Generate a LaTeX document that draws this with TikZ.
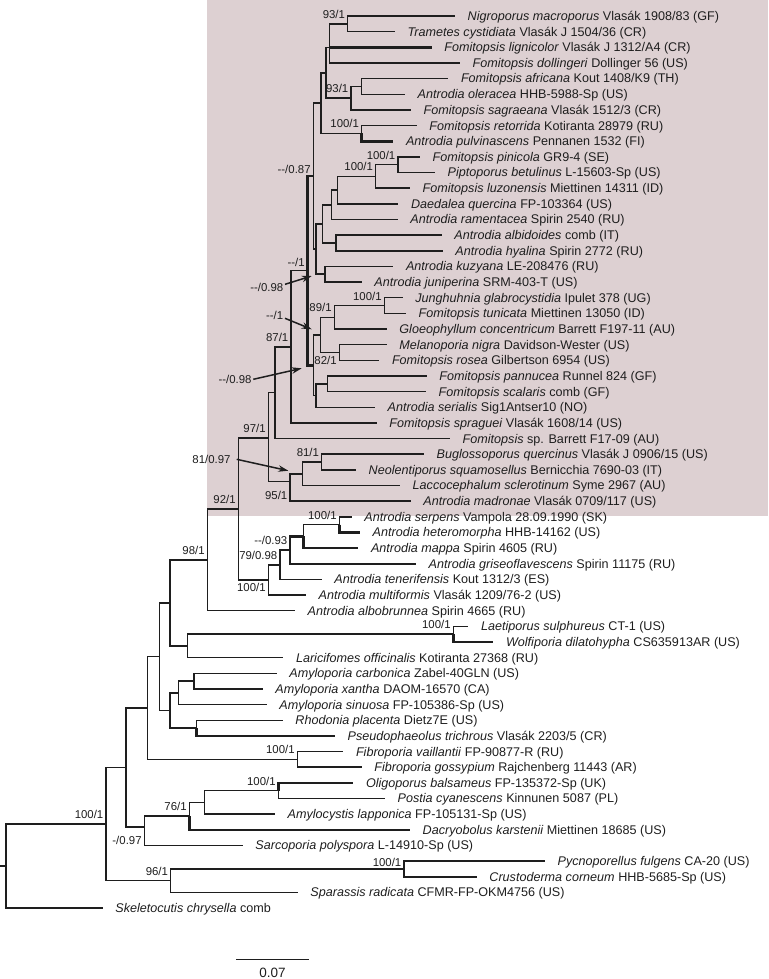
\documentclass[tikz,border=0pt]{standalone}
\usepackage{fontspec}
\setmainfont{Liberation Sans}
\usetikzlibrary{arrows.meta}
\definecolor{cladeshade}{RGB}{221,208,210}
\definecolor{treeline}{RGB}{30,30,30}
\newcommand{\gen}[1]{\textit{#1}}

\begin{document}
\begin{tikzpicture}[x=1pt,y=-1pt,
    branch/.style={draw=treeline,line width=1.5pt},
    bold/.style={draw=treeline,line width=2.6pt},
    taxon/.style={anchor=base west,xshift=12.5pt,yshift=-4.4pt,inner sep=0pt,
        text=treeline,font=\fontsize{12.6}{14}\selectfont},
    support/.style={anchor=base east,xshift=-2.5pt,yshift=#1,inner sep=0pt,
        text=treeline,font=\fontsize{11.4}{12}\selectfont},
    support/.default=5.5pt,
    annot/.style={anchor=east,inner sep=0pt,text=treeline,font=\fontsize{11.4}{12}\selectfont},
    callout/.style={draw=treeline,line width=1.5pt,-{Stealth[length=10pt,width=6.5pt]}}]
    \useasboundingbox (0,0) rectangle (768,979);
    % shaded clade
    \fill[cladeshade] (206.7,0) rectangle (768,515.5);

    % leaf tips
    \coordinate (nigro) at (455,16.0);
    \coordinate (trame) at (395,31.7);
    \coordinate (ligni) at (431.7,47.3);
    \coordinate (dolli) at (460,63.0);
    \coordinate (afric) at (448.3,78.6);
    \coordinate (olera) at (405,94.3);
    \coordinate (sagra) at (411,109.9);
    \coordinate (retor) at (416.7,125.6);
    \coordinate (pulvi) at (393.3,141.2);
    \coordinate (pinic) at (420,156.9);
    \coordinate (betul) at (435,172.5);
    \coordinate (luzon) at (410,188.2);
    \coordinate (querc) at (398.3,203.8);
    \coordinate (ramen) at (397.7,219.5);
    \coordinate (albid) at (441.7,235.1);
    \coordinate (hyali) at (442.7,250.8);
    \coordinate (kuzya) at (393.3,266.4);
    \coordinate (junip) at (361.7,282.1);
    \coordinate (jungh) at (402.7,297.7);
    \coordinate (tunic) at (406,313.4);
    \coordinate (gloeo) at (386.7,329.0);
    \coordinate (melan) at (386.7,344.7);
    \coordinate (rosea) at (379.3,360.3);
    \coordinate (pannu) at (426.7,376.0);
    \coordinate (scala) at (426,391.6);
    \coordinate (seria) at (375,407.3);
    \coordinate (sprag) at (376.7,422.9);
    \coordinate (fomsp) at (450,438.6);
    \coordinate (buglo) at (424,454.2);
    \coordinate (neole) at (356,469.9);
    \coordinate (lacco) at (400,485.5);
    \coordinate (madro) at (410.7,501.2);
    \coordinate (serpe) at (351.7,516.8);
    \coordinate (heter) at (360,532.5);
    \coordinate (mappa) at (358.3,548.1);
    \coordinate (grise) at (416,563.8);
    \coordinate (tener) at (321.7,579.4);
    \coordinate (multi) at (306,595.1);
    \coordinate (albob) at (295,610.7);
    \coordinate (laeti) at (468.3,626.4);
    \coordinate (wolfi) at (493.3,642.0);
    \coordinate (laric) at (283.3,657.7);
    \coordinate (carbo) at (276.7,673.3);
    \coordinate (xanth) at (262.7,689.0);
    \coordinate (sinuo) at (266.7,704.6);
    \coordinate (rhodo) at (282.7,720.3);
    \coordinate (pseud) at (335,735.9);
    \coordinate (vaill) at (343.3,751.6);
    \coordinate (gossy) at (361.7,767.2);
    \coordinate (oligo) at (353.3,782.9);
    \coordinate (posti) at (385,798.5);
    \coordinate (amylo) at (275,814.2);
    \coordinate (dacry) at (410,829.8);
    \coordinate (sarco) at (242.7,845.5);
    \coordinate (pycno) at (545,861.1);
    \coordinate (crust) at (476.7,876.8);
    \coordinate (spara) at (297.7,892.4);
    \coordinate (skele) at (102.7,908.1);

    % internal nodes
    \coordinate (stub) at (0,866.1);
    \coordinate (root) at (6,866.1);
    \coordinate (nAB) at (106,824.1);
    \coordinate (nVV) at (126,767.5);
    \coordinate (nTT) at (147.7,708.1);
    \coordinate (nOO) at (159.3,656.7);
    \coordinate (nNN) at (170,603);
    \coordinate (nKK) at (207.3,559.9);
    \coordinate (nDD) at (238.3,509);
    \coordinate (nCC) at (268.3,438);
    \coordinate (nK) at (275,392.7);
    \coordinate (nJ) at (291,346.8);
    \coordinate (nI) at (307.3,270.7);
    \coordinate (nH) at (313.3,176.1);
    \coordinate (nG) at (321,103.1);
    \coordinate (nE) at (326,72.8);
    \coordinate (nB) at (329.3,47.3);
    \coordinate (nA) at (347.7,23.8);
    \coordinate (nD) at (351,98.2);
    \coordinate (nC) at (361.7,86.4);
    \coordinate (nF) at (361.7,133.4);
    \coordinate (nQ) at (316,249.1);
    \coordinate (nO) at (322.7,223.9);
    \coordinate (nN) at (331.7,204.8);
    \coordinate (nM) at (337.7,190.1);
    \coordinate (nL) at (375.7,176.4);
    \coordinate (nPB) at (398,164.7);
    \coordinate (nP) at (336,243.0);
    \coordinate (nR) at (325,274.2);
    \coordinate (nW) at (313.3,365.2);
    \coordinate (nU) at (320.7,334.9);
    \coordinate (nS) at (334.3,317.3);
    \coordinate (nT) at (384.3,305.5);
    \coordinate (nV) at (339.3,352.5);
    \coordinate (nX) at (316,395.5);
    \coordinate (nY) at (327.3,383.8);
    \coordinate (nZ) at (290,481.7);
    \coordinate (nAA) at (302.3,473.8);
    \coordinate (nBB) at (321.7,462.0);
    \coordinate (nEE) at (268.3,580);
    \coordinate (nFF) at (280,564.8);
    \coordinate (nGG) at (290,550.1);
    \coordinate (nHH) at (303.3,536.4);
    \coordinate (nII) at (339.3,524.7);
    \coordinate (nLL) at (187.7,646);
    \coordinate (nMM) at (453.3,634.2);
    \coordinate (nPP) at (170,710.5);
    \coordinate (nQQ) at (178.3,692.9);
    \coordinate (nRR) at (194,681.2);
    \coordinate (nSS) at (196.7,728.1);
    \coordinate (nUU) at (297.3,759.4);
    \coordinate (nWW) at (144.3,827);
    \coordinate (nXX) at (189.3,816.1);
    \coordinate (nYY) at (204.3,802.4);
    \coordinate (nZZ) at (278.3,790.7);
    \coordinate (nCD) at (170.7,880.7);
    \coordinate (nDE) at (404,869);

    % branches
    \draw[branch] (stub) -- (root);
    \draw[branch] (root) |- (nAB) (root) |- (skele);
    \draw[branch] (nAB) |- (nVV) (nAB) |- (nCD);
    \draw[branch] (nVV) |- (nTT) (nVV) |- (nWW);
    \draw[branch] (nTT) |- (nOO) (nTT) |- (nUU);
    \draw[branch] (nOO) |- (nNN) (nOO) |- (nPP);
    \draw[branch] (nNN) |- (nKK) (nNN) |- (nLL);
    \draw[branch] (nKK) |- (nDD) (nKK) |- (albob);
    \draw[branch] (nDD) |- (nCC) (nDD) |- (nEE);
    \draw[branch] (nCC) |- (nK) (nCC) |- (nZ);
    \draw[branch] (nK) |- (nJ) (nK) |- (fomsp);
    \draw[branch] (nJ) |- (nI) (nJ) |- (sprag);
    \draw[bold] (nI) |- (nH) (nI) |- (nW);
    \draw[branch] (nH) |- (nG) (nH) |- (nQ);
    \draw[branch] (nG) |- (nE) (nG) |- (nF);
    \draw[branch] (nE) |- (nB) (nE) |- (nD);
    \draw[branch] (nB) |- (nA) (nB) |- (dolli);
    \draw[bold] (nB) -- (ligni);
    \draw[branch] (nA) |- (nigro) (nA) |- (trame);
    \draw[branch] (nD) |- (nC) (nD) |- (sagra);
    \draw[branch] (nC) |- (afric) (nC) |- (olera);
    \draw[branch] (nF) |- (retor);
    \draw[bold] (nF) |- (pulvi);
    \draw[branch] (nQ) |- (nO) (nQ) |- (nR);
    \draw[branch] (nO) |- (nN) (nO) |- (nP);
    \draw[branch] (nN) |- (nM) (nN) |- (ramen);
    \draw[branch] (nM) |- (nL) (nM) |- (querc);
    \draw[branch] (nL) |- (nPB) (nL) |- (luzon);
    \draw[branch] (nPB) |- (pinic) (nPB) |- (betul);
    \draw[bold] (nP) |- (albid);
    \draw[branch] (nP) |- (hyali);
    \draw[branch] (nR) |- (kuzya) (nR) |- (junip);
    \draw[branch] (nW) |- (nU) (nW) |- (nX);
    \draw[branch] (nU) |- (nS) (nU) |- (nV);
    \draw[branch] (nS) |- (nT) (nS) |- (gloeo);
    \draw[branch] (nT) |- (jungh) (nT) |- (tunic);
    \draw[branch] (nV) |- (melan) (nV) |- (rosea);
    \draw[branch] (nX) |- (nY) (nX) |- (seria);
    \draw[branch] (nY) |- (pannu) (nY) |- (scala);
    \draw[branch] (nZ) |- (nAA) (nZ) |- (madro);
    \draw[branch] (nAA) |- (nBB) (nAA) |- (lacco);
    \draw[branch] (nBB) |- (buglo) (nBB) |- (neole);
    \draw[branch] (nEE) |- (nFF) (nEE) |- (multi);
    \draw[branch] (nFF) |- (nGG) (nFF) |- (tener);
    \draw[bold] (nGG) |- (nHH);
    \draw[branch] (nGG) |- (grise);
    \draw[branch] (nHH) |- (nII);
    \draw[bold] (nHH) |- (mappa);
    \draw[branch] (nII) |- (serpe);
    \draw[bold] (nII) |- (heter);
    \draw[branch] (nLL) |- (nMM) (nLL) |- (laric);
    \draw[branch] (nMM) |- (laeti);
    \draw[bold] (nMM) |- (wolfi);
    \draw[branch] (nPP) |- (nQQ) (nPP) |- (nSS);
    \draw[branch] (nQQ) |- (nRR) (nQQ) |- (sinuo);
    \draw[branch] (nRR) |- (carbo) (nRR) |- (xanth);
    \draw[branch] (nSS) |- (rhodo);
    \draw[bold] (nSS) |- (pseud);
    \draw[branch] (nUU) |- (vaill) (nUU) |- (gossy);
    \draw[branch] (nWW) |- (nXX) (nWW) |- (sarco);
    \draw[branch] (nXX) |- (nYY);
    \draw[bold] (nXX) |- (dacry);
    \draw[branch] (nYY) |- (nZZ) (nYY) |- (amylo);
    \draw[bold] (nZZ) |- (oligo);
    \draw[branch] (nZZ) |- (posti);
    \draw[branch] (nCD) |- (nDE) (nCD) |- (spara);
    \draw[branch] (nDE) |- (pycno);
    \draw[bold] (nDE) |- (crust);

    % taxa
    \node[taxon] (nigro-t) at (nigro) {\gen{Nigroporus macroporus} Vlasák 1908/83 (GF)};
    \node[taxon] (trame-t) at (trame) {\gen{Trametes cystidiata} Vlasák J 1504/36 (CR)};
    \node[taxon] (ligni-t) at (ligni) {\gen{Fomitopsis lignicolor} Vlasák J 1312/A4 (CR)};
    \node[taxon] (dolli-t) at (dolli) {\gen{Fomitopsis dollingeri} Dollinger 56 (US)};
    \node[taxon] (afric-t) at (afric) {\gen{Fomitopsis africana} Kout 1408/K9 (TH)};
    \node[taxon] (olera-t) at (olera) {\gen{Antrodia oleracea} HHB-5988-Sp (US)};
    \node[taxon] (sagra-t) at (sagra) {\gen{Fomitopsis sagraeana} Vlasák 1512/3 (CR)};
    \node[taxon] (retor-t) at (retor) {\gen{Fomitopsis retorrida} Kotiranta 28979 (RU)};
    \node[taxon] (pulvi-t) at (pulvi) {\gen{Antrodia pulvinascens} Pennanen 1532 (FI)};
    \node[taxon] (pinic-t) at (pinic) {\gen{Fomitopsis pinicola} GR9-4 (SE)};
    \node[taxon] (betul-t) at (betul) {\gen{Piptoporus betulinus} L-15603-Sp (US)};
    \node[taxon] (luzon-t) at (luzon) {\gen{Fomitopsis luzonensis} Miettinen 14311 (ID)};
    \node[taxon] (querc-t) at (querc) {\gen{Daedalea quercina} FP-103364 (US)};
    \node[taxon] (ramen-t) at (ramen) {\gen{Antrodia ramentacea} Spirin 2540 (RU)};
    \node[taxon] (albid-t) at (albid) {\gen{Antrodia albidoides} comb (IT)};
    \node[taxon] (hyali-t) at (hyali) {\gen{Antrodia hyalina} Spirin 2772 (RU)};
    \node[taxon] (kuzya-t) at (kuzya) {\gen{Antrodia kuzyana} LE-208476 (RU)};
    \node[taxon] (junip-t) at (junip) {\gen{Antrodia juniperina} SRM-403-T (US)};
    \node[taxon] (jungh-t) at (jungh) {\gen{Junghuhnia glabrocystidia} Ipulet 378 (UG)};
    \node[taxon] (tunic-t) at (tunic) {\gen{Fomitopsis tunicata} Miettinen 13050 (ID)};
    \node[taxon] (gloeo-t) at (gloeo) {\gen{Gloeophyllum concentricum} Barrett F197-11 (AU)};
    \node[taxon] (melan-t) at (melan) {\gen{Melanoporia nigra} Davidson-Wester (US)};
    \node[taxon] (rosea-t) at (rosea) {\gen{Fomitopsis rosea} Gilbertson 6954 (US)};
    \node[taxon] (pannu-t) at (pannu) {\gen{Fomitopsis pannucea} Runnel 824 (GF)};
    \node[taxon] (scala-t) at (scala) {\gen{Fomitopsis scalaris} comb (GF)};
    \node[taxon] (seria-t) at (seria) {\gen{Antrodia serialis} Sig1Antser10 (NO)};
    \node[taxon] (sprag-t) at (sprag) {\gen{Fomitopsis spraguei} Vlasák 1608/14 (US)};
    \node[taxon] (fomsp-t) at (fomsp) {\gen{Fomitopsis} sp. Barrett F17-09 (AU)};
    \node[taxon] (buglo-t) at (buglo) {\gen{Buglossoporus quercinus} Vlasák J 0906/15 (US)};
    \node[taxon] (neole-t) at (neole) {\gen{Neolentiporus squamosellus} Bernicchia 7690-03 (IT)};
    \node[taxon] (lacco-t) at (lacco) {\gen{Laccocephalum sclerotinum} Syme 2967 (AU)};
    \node[taxon] (madro-t) at (madro) {\gen{Antrodia madronae} Vlasák 0709/117 (US)};
    \node[taxon] (serpe-t) at (serpe) {\gen{Antrodia serpens} Vampola 28.09.1990 (SK)};
    \node[taxon] (heter-t) at (heter) {\gen{Antrodia heteromorpha} HHB-14162 (US)};
    \node[taxon] (mappa-t) at (mappa) {\gen{Antrodia mappa} Spirin 4605 (RU)};
    \node[taxon] (grise-t) at (grise) {\gen{Antrodia griseoflavescens} Spirin 11175 (RU)};
    \node[taxon] (tener-t) at (tener) {\gen{Antrodia tenerifensis} Kout 1312/3 (ES)};
    \node[taxon] (multi-t) at (multi) {\gen{Antrodia multiformis} Vlasák 1209/76-2 (US)};
    \node[taxon] (albob-t) at (albob) {\gen{Antrodia albobrunnea} Spirin 4665 (RU)};
    \node[taxon] (laeti-t) at (laeti) {\gen{Laetiporus sulphureus} CT-1 (US)};
    \node[taxon] (wolfi-t) at (wolfi) {\gen{Wolfiporia dilatohypha} CS635913AR (US)};
    \node[taxon] (laric-t) at (laric) {\gen{Laricifomes officinalis} Kotiranta 27368 (RU)};
    \node[taxon] (carbo-t) at (carbo) {\gen{Amyloporia carbonica} Zabel-40GLN (US)};
    \node[taxon] (xanth-t) at (xanth) {\gen{Amyloporia xantha} DAOM-16570 (CA)};
    \node[taxon] (sinuo-t) at (sinuo) {\gen{Amyloporia sinuosa} FP-105386-Sp (US)};
    \node[taxon] (rhodo-t) at (rhodo) {\gen{Rhodonia placenta} Dietz7E (US)};
    \node[taxon] (pseud-t) at (pseud) {\gen{Pseudophaeolus trichrous} Vlasák 2203/5 (CR)};
    \node[taxon] (vaill-t) at (vaill) {\gen{Fibroporia vaillantii} FP-90877-R (RU)};
    \node[taxon] (gossy-t) at (gossy) {\gen{Fibroporia gossypium} Rajchenberg 11443 (AR)};
    \node[taxon] (oligo-t) at (oligo) {\gen{Oligoporus balsameus} FP-135372-Sp (UK)};
    \node[taxon] (posti-t) at (posti) {\gen{Postia cyanescens} Kinnunen 5087 (PL)};
    \node[taxon] (amylo-t) at (amylo) {\gen{Amylocystis lapponica} FP-105131-Sp (US)};
    \node[taxon] (dacry-t) at (dacry) {\gen{Dacryobolus karstenii} Miettinen 18685 (US)};
    \node[taxon] (sarco-t) at (sarco) {\gen{Sarcoporia polyspora} L-14910-Sp (US)};
    \node[taxon] (pycno-t) at (pycno) {\gen{Pycnoporellus fulgens} CA-20 (US)};
    \node[taxon] (crust-t) at (crust) {\gen{Crustoderma corneum} HHB-5685-Sp (US)};
    \node[taxon] (spara-t) at (spara) {\gen{Sparassis radicata} CFMR-FP-OKM4756 (US)};
    \node[taxon] (skele-t) at (skele) {\gen{Skeletocutis chrysella} comb};

    % support values
    \node[support] (nA-s) at (nA) {93/1};
    \node[support] (nD-s) at (nD) {93/1};
    \node[support] (nF-s) at (nF) {100/1};
    \node[support] (nPB-s) at (nPB) {100/1};
    \node[support] (nL-s) at (nL) {100/1};
    \node[support=2.8pt] (nH-s) at (nH) {-{}-/0.87};
    \node[support=4pt] (nI-s) at (nI) {-{}-/1};
    \node[support] (nT-s) at (nT) {100/1};
    \node[support] (nS-s) at (nS) {89/1};
    \node[support=-11.5pt] (nV-s) at (nV) {82/1};
    \node[support] (nJ-s) at (nJ) {87/1};
    \node[support] (nCC-s) at (nCC) {97/1};
    \node[support] (nBB-s) at (nBB) {81/1};
    \node[support=-18pt] (nZ-s) at (nZ) {95/1};
    \node[support] (nDD-s) at (nDD) {92/1};
    \node[support] (nII-s) at (nII) {100/1};
    \node[support] (nGG-s) at (nGG) {-{}-/0.93};
    \node[support] (nFF-s) at (nFF) {79/0.98};
    \node[support=-11.5pt] (nEE-s) at (nEE) {100/1};
    \node[support] (nKK-s) at (nKK) {98/1};
    \node[support] (nMM-s) at (nMM) {100/1};
    \node[support] (nUU-s) at (nUU) {100/1};
    \node[support] (nZZ-s) at (nZZ) {100/1};
    \node[support] (nXX-s) at (nXX) {76/1};
    \node[support=-17pt] (nWW-s) at (nWW) {-/0.97};
    \node[support] (nAB-s) at (nAB) {100/1};
    \node[support] (nCD-s) at (nCD) {96/1};
    \node[support=2.3pt] (nDE-s) at (nDE) {100/1};

    % call-outs
    \node[annot] (ann1) at (283.5,287.3) {-{}-/0.98};
    \coordinate (ann1-tip) at (311.7,276);
    \draw[callout] ([xshift=1.5pt,yshift=3pt]ann1.east) -- (ann1-tip);
    \node[annot] (ann2) at (283.3,315) {-{}-/1};
    \coordinate (ann2-tip) at (311.7,329.3);
    \draw[callout] ([xshift=1.7pt,yshift=-3.3pt]ann2.east) -- (ann2-tip);
    \node[annot] (ann3) at (251.7,379.3) {-{}-/0.98};
    \coordinate (ann3-tip) at (301.7,368.3);
    \draw[callout] ([xshift=1.6pt]ann3.east) -- (ann3-tip);
    \node[annot] (ann4) at (230.7,459.3) {81/0.97};
    \coordinate (ann4-tip) at (288.3,470.7);
    \draw[callout] ([xshift=6pt]ann4.east) -- (ann4-tip);

    % scale bar
    \coordinate (bar-l) at (236,959.3);
    \coordinate (bar-r) at (309,959.3);
    \draw[branch] (bar-l) -- (bar-r);
    \node[anchor=base,inner sep=0pt,text=treeline,font=\fontsize{13.5}{15}\selectfont] (bar-t) at (272.5,977.5) {0.07};
\end{tikzpicture}
\end{document}
